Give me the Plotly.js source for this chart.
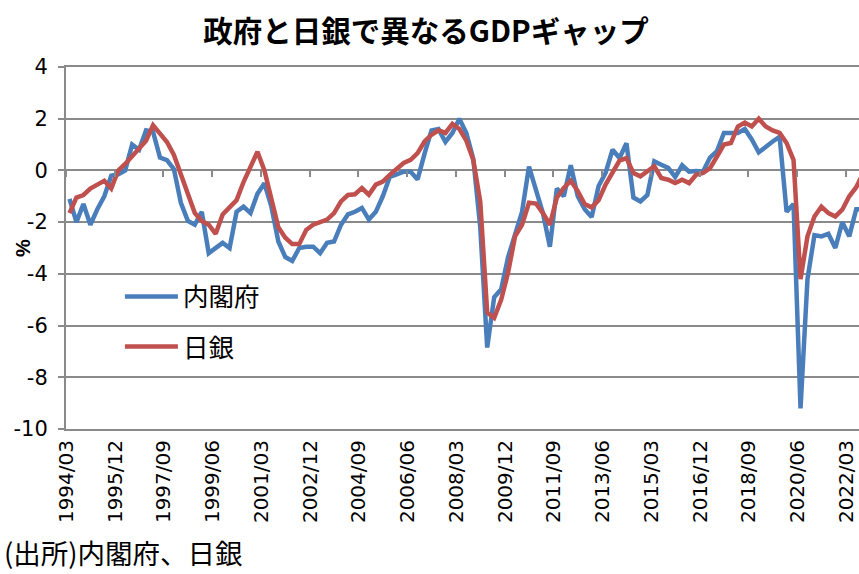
<!DOCTYPE html>
<html>
<head>
<meta charset="utf-8">
<script src="https://cdn.plot.ly/plotly-3.0.1.min.js"></script>
<style>html,body{margin:0;padding:0;background:#fff;overflow:hidden}#chart{width:859px;height:574px}</style>
</head>
<body>
<div id="chart"></div>
<script>
// Quarter categories (year/month of quarter end)
const quarters = [
"1994/03","1994/06","1994/09","1994/12","1995/03","1995/06","1995/09","1995/12",
"1996/03","1996/06","1996/09","1996/12","1997/03","1997/06","1997/09","1997/12",
"1998/03","1998/06","1998/09","1998/12","1999/03","1999/06","1999/09","1999/12",
"2000/03","2000/06","2000/09","2000/12","2001/03","2001/06","2001/09","2001/12",
"2002/03","2002/06","2002/09","2002/12","2003/03","2003/06","2003/09","2003/12",
"2004/03","2004/06","2004/09","2004/12","2005/03","2005/06","2005/09","2005/12",
"2006/03","2006/06","2006/09","2006/12","2007/03","2007/06","2007/09","2007/12",
"2008/03","2008/06","2008/09","2008/12","2009/03","2009/06","2009/09","2009/12",
"2010/03","2010/06","2010/09","2010/12","2011/03","2011/06","2011/09","2011/12",
"2012/03","2012/06","2012/09","2012/12","2013/03","2013/06","2013/09","2013/12",
"2014/03","2014/06","2014/09","2014/12","2015/03","2015/06","2015/09","2015/12",
"2016/03","2016/06","2016/09","2016/12","2017/03","2017/06","2017/09","2017/12",
"2018/03","2018/06","2018/09","2018/12","2019/03","2019/06","2019/09","2019/12",
"2020/03","2020/06","2020/09","2020/12","2021/03","2021/06","2021/09","2021/12",
"2022/03","2022/06","2022/09"
];

// 内閣府 GDP gap (%)
const cabinetOffice = [
-1.1,-2.0,-1.3,-2.1,-1.5,-1.0,-0.2,-0.15,0.0,1.0,
0.8,1.55,1.5,0.5,0.4,0.05,-1.25,-1.95,-2.1,-1.6,
-3.2,-3.0,-2.8,-3.0,-1.6,-1.4,-1.65,-0.9,-0.5,-1.4,
-2.75,-3.35,-3.5,-3.0,-2.95,-2.95,-3.2,-2.8,-2.75,-2.1,
-1.7,-1.6,-1.45,-1.9,-1.6,-1.0,-0.25,-0.15,-0.05,-0.05,
-0.35,0.65,1.55,1.6,1.1,1.45,2.0,1.45,0.45,-2.2,
-6.85,-4.9,-4.6,-3.35,-2.45,-1.6,0.15,-0.75,-1.65,-2.95,
-0.7,-1.0,0.2,-1.0,-1.5,-1.8,-0.6,-0.1,0.8,0.48,
1.05,-1.05,-1.2,-0.95,0.35,0.22,0.1,-0.25,0.2,-0.05,
-0.02,-0.04,0.5,0.75,1.45,1.45,1.45,1.6,1.2,0.7,
0.93,1.12,1.3,-1.6,-1.3,-9.2,-4.2,-2.5,-2.55,-2.45,
-3.0,-2.0,-2.55,-1.5,-1.5
];

// 日銀 output gap (%)
const bankOfJapan = [
-1.65,-1.05,-0.95,-0.7,-0.55,-0.4,-0.7,0.0,0.25,0.55,
0.8,1.15,1.75,1.4,1.1,0.6,-0.1,-0.9,-1.65,-1.95,
-2.1,-2.45,-1.7,-1.4,-1.15,-0.45,0.15,0.72,0.0,-1.15,
-2.2,-2.6,-2.85,-2.85,-2.3,-2.1,-2.0,-1.9,-1.65,-1.2,
-0.95,-0.92,-0.68,-0.94,-0.55,-0.43,-0.17,0.09,0.29,0.41,
0.67,1.12,1.38,1.55,1.45,1.8,1.6,1.15,0.4,-1.2,
-5.5,-5.7,-5.0,-3.95,-2.55,-2.1,-1.25,-1.28,-1.65,-2.1,
-1.05,-0.68,-0.4,-0.8,-1.3,-1.43,-1.15,-0.55,-0.05,0.38,
0.48,-0.1,-0.23,-0.05,0.16,-0.29,-0.36,-0.49,-0.36,-0.49,
-0.17,-0.1,0.09,0.54,1.0,1.06,1.7,1.85,1.7,2.0,
1.7,1.55,1.45,1.06,0.4,-4.2,-2.55,-1.78,-1.4,-1.65,
-1.78,-1.52,-1.0,-0.65,-0.1
];

const tickLabels = ["1994/03","1995/12","1997/09","1999/06","2001/03","2002/12","2004/09","2006/06",
"2008/03","2009/12","2011/09","2013/06","2015/03","2016/12","2018/09","2020/06","2022/03"];
const yTicks = [4,2,0,-2,-4,-6,-8,-10];
const seriesNames = ["内閣府","日銀"];

const gridColor = '#8a8a8a';
const jp = '"Noto Sans CJK JP", sans-serif';

// tick marks on the zero line at category boundaries before each labelled quarter
const boundaryTicks = tickLabels.map(l => quarters.indexOf(l) - 0.5);

const traces = [
  {x: quarters, y: cabinetOffice, name: seriesNames[0], type: 'scatter', mode: 'lines',
   line: {color: '#4a7ebb', width: 4.5}, legendgroup: 'a'},
  {x: quarters, y: bankOfJapan, name: seriesNames[1], type: 'scatter', mode: 'lines',
   line: {color: '#c0504d', width: 4.5}, legendgroup: 'b'},
  {x: [0], y: [0], xaxis: 'x2', type: 'scatter', mode: 'markers', marker: {opacity: 0},
   showlegend: false, hoverinfo: 'skip'}
];

const layout = {
  width: 859, height: 574,
  margin: {l: 66, r: 0, t: 67, b: 145},
  paper_bgcolor: '#fff', plot_bgcolor: '#fff',
  showlegend: true,
  title: {text: '政府と日銀で異なるGDPギャップ', x: 0.496, xref: 'container', y: 0.944, yref: 'container',
          xanchor: 'center', yanchor: 'middle',
          font: {family: jp, size: 29.5, color: '#000', weight: 'bold'}},
  xaxis: {type: 'category', range: [-0.5, 113.4], tickmode: 'array', tickvals: tickLabels, ticktext: tickLabels,
          tickangle: -90, tickfont: {family: '"DejaVu Sans", Verdana, sans-serif', size: 20, color: '#000'},
          showgrid: false, zeroline: false, showline: true, mirror: true, linecolor: gridColor, linewidth: 2,
          ticks: '', ticklabelstandoff: 1, ticklabelshift: -3, automargin: false},
  xaxis2: {overlaying: 'x', anchor: 'free', position: 10/14, type: 'linear', range: [-0.5, 113.4],
           tickmode: 'array', tickvals: boundaryTicks, ticks: 'outside', ticklen: 6, tickwidth: 2,
           tickcolor: gridColor, showticklabels: false, showline: false, showgrid: false, zeroline: false},
  yaxis: {range: [-10, 4], tickmode: 'array', tickvals: yTicks, ticktext: yTicks.map(String),
          showgrid: true, gridcolor: gridColor, gridwidth: 2, zeroline: false,
          showline: true, linecolor: gridColor, linewidth: 2,
          ticks: 'outside', ticklen: 6, tickwidth: 2, tickcolor: gridColor, automargin: false,
          tickfont: {family: '"DejaVu Sans", sans-serif', size: 21, color: '#000'}, ticklabelstandoff: 6},
  legend: {x: 0.068, y: 0.43, xanchor: 'left', yanchor: 'top', bgcolor: 'rgba(0,0,0,0)',
           font: {family: jp, size: 25.5, color: '#000'}, itemwidth: 53, tracegroupgap: 14,
           traceorder: 'grouped'},
  annotations: [
    {text: '%', textangle: -90, xref: 'paper', yref: 'paper', x: (23 - 66) / 793, y: (429 - 248) / 362,
     xanchor: 'center', yanchor: 'middle', showarrow: false,
     font: {family: 'Liberation Sans', size: 20, color: '#000', weight: 'bold'}},
    {text: '(出所)内閣府、日銀', xref: 'paper', yref: 'paper', x: (2 - 66) / 793, y: (429 - 552) / 362,
     xanchor: 'left', yanchor: 'middle', showarrow: false,
     font: {family: jp, size: 27.5, color: '#000'}}
  ]
};

Plotly.newPlot('chart', traces, layout, {staticPlot: true, displayModeBar: false}).then(gd => {
  gd.querySelectorAll('.legendlines path').forEach(p => p.setAttribute('d', 'M5,0h53'));
});
</script>
</body>
</html>
